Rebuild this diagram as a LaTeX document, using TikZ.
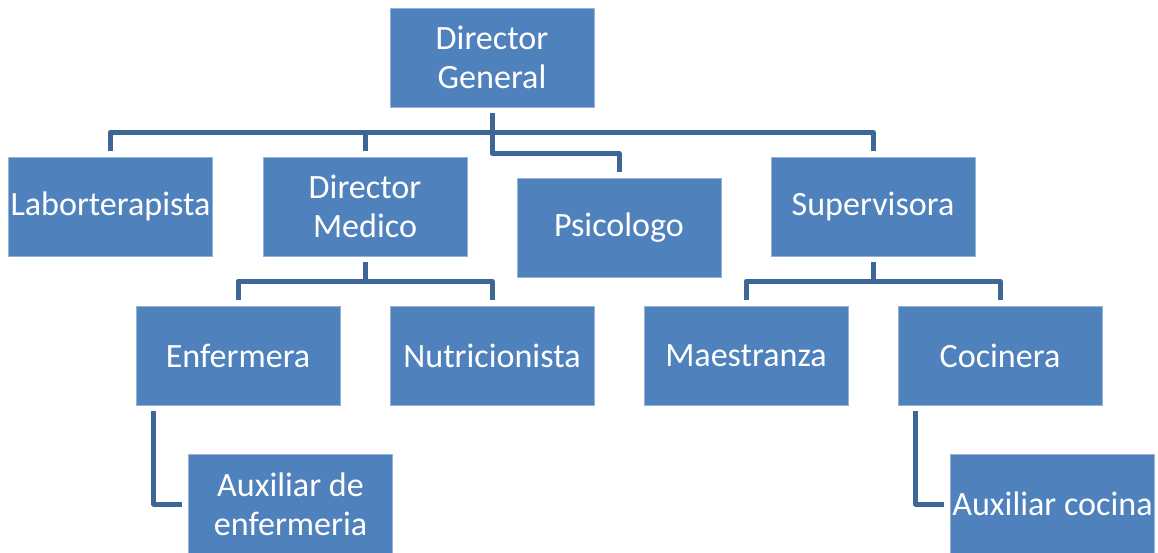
\documentclass[tikz,border=0pt]{standalone}
\usepackage{fontspec}
\setmainfont{Carlito}
\usepackage{xcolor}
\usepackage{tikz}
\usetikzlibrary{positioning}

\definecolor{boxblue}{HTML}{4F81BD}
\definecolor{lineblue}{HTML}{3D6596}

\tikzset{
    orgbox/.style={rectangle,fill=boxblue,draw=boxblue!60!white,line width=0.3pt,
        minimum width=4.08cm,minimum height=1.98cm,inner sep=0pt,
        text=white,align=center,font=\fontsize{19.4}{22.3}\selectfont},
    conn/.style={draw=lineblue,line width=0.1cm,line join=round,
        shorten <=0.12cm,shorten >=0.12cm}
}

\begin{document}
\begin{tikzpicture}[x=0.02cm,y=-0.02cm]
    \clip (0,0) rectangle (1158,552);
    \fill[white] (0,0) rectangle (1158,552);

    % top level
    \node[orgbox] (dg) at (492,57.5) {Director\\General};

    % second level
    \node[orgbox] (lab) at (110.5,206.5) {Laborterapista};
    \node[orgbox] (dm)  at (365,206.5)   {Director\\Medico};
    \node[orgbox] (psi) at (619,227.5)   {Psicologo};
    \node[orgbox] (sup) at (873,206.5)   {Supervisora};

    % third level
    \node[orgbox] (enf) at (238,355.5)  {Enfermera};
    \node[orgbox] (nut) at (492,355.5)  {Nutricionista};
    \node[orgbox] (mae) at (746,355.5)  {Maestranza};
    \node[orgbox] (coc) at (1000,355.5) {Cocinera};

    % assistants
    \node[orgbox] (auxenf) at (290.5,504)  {Auxiliar de\\enfermeria};
    \node[orgbox] (auxcoc) at (1052.5,504) {Auxiliar cocina};

    % connectors
    \draw[conn] (dg.south) -- ++(0,25) -| (lab.north);
    \draw[conn] (dg.south) -- ++(0,25) -| (dm.north);
    \draw[conn] (dg.south) -- ++(0,25) -| (sup.north);
    \draw[conn] (dg.south) -- ++(0,46) -| (psi.north);

    \draw[conn] (dm.south) -- ++(0,25) -| (enf.north);
    \draw[conn] (dm.south) -- ++(0,25) -| (nut.north);
    \draw[conn] (sup.south) -- ++(0,25) -| (mae.north);
    \draw[conn] (sup.south) -- ++(0,25) -| (coc.north);

    \draw[conn] ([xshift=0.36cm]enf.south west) |- (auxenf.west);
    \draw[conn] ([xshift=0.36cm]coc.south west) |- (auxcoc.west);
\end{tikzpicture}
\end{document}
